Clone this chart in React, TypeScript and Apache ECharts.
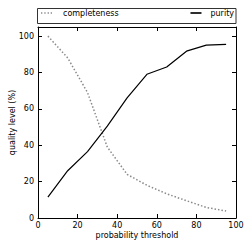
import React, { useEffect, useRef } from "react";
import * as echarts from "echarts";

const thresholds = [5, 15, 25, 35, 45, 55, 65, 75, 85, 95];
const completeness = [100, 88, 69, 39, 24, 18, 13.3, 9.5, 5.8, 3.8];
const purity = [11.5, 26, 36.5, 50.5, 66, 79, 83, 91.7, 95, 95.5];
const seriesNames = ["completeness", "purity"];

const FONT = "DejaVu Sans";

export default function App() {
  const ref = useRef<HTMLDivElement>(null);
  useEffect(() => {
    if (!ref.current) return;
    const chart = echarts.init(ref.current, undefined, { renderer: "svg" });
    const gridL = 38, gridR = 13, gridT = 27, gridB = 31;
    const axisCommon = {
      type: "value" as const,
      splitLine: { show: false },
      axisLine: { show: true, onZero: false, lineStyle: { color: "#000", width: 1 } },
      axisTick: { show: true, inside: true, length: 4, lineStyle: { color: "#000", width: 1 } },
    };
    const dottedIcon = "path://M0,0H1.2V1.5H0Z M3,0H4.2V1.5H3Z M6,0H7.2V1.5H6Z M8.8,0H10V1.5H8.8Z";
    const solidIcon = "path://M0,0H10V1.5H0Z";
    chart.setOption({
      animation: false,
      backgroundColor: "#fff",
      textStyle: { fontFamily: FONT },
      grid: { left: gridL, right: gridR, top: gridT, bottom: gridB },
      legend: [
        {
          data: [{ name: seriesNames[0], icon: dottedIcon }],
          left: 41,
          top: 9,
          itemWidth: 11,
          itemHeight: 14,
          padding: 0,
          textStyle: { fontSize: 8, color: "#000", fontFamily: FONT, padding: [0, 0, 0, 6] },
        },
        {
          data: [{ name: seriesNames[1], icon: solidIcon }],
          right: 15,
          top: 9,
          itemWidth: 11,
          itemHeight: 14,
          padding: 0,
          textStyle: { fontSize: 8, color: "#000", fontFamily: FONT, padding: [0, 0, 0, 4] },
        },
      ],
      graphic: [
        {
          type: "rect",
          shape: { x: 37.5, y: 8.5, width: 198.5, height: 15 },
          style: { fill: "none", stroke: "#333", lineWidth: 1 },
        },
      ],
      xAxis: [
        {
          ...axisCommon,
          position: "bottom",
          min: 0,
          max: 100,
          interval: 20,
          axisLabel: { fontSize: 8, color: "#000", margin: 3, fontFamily: FONT },
          name: "probability threshold",
          nameLocation: "middle",
          nameGap: 13,
          nameMoveOverlap: false,
          nameTextStyle: { fontSize: 8, color: "#000", fontFamily: FONT },
        },
        {
          ...axisCommon,
          position: "top",
          min: 0,
          max: 100,
          interval: 20,
          axisLabel: { show: false },
        },
      ],
      yAxis: [
        {
          ...axisCommon,
          position: "left",
          min: 0,
          max: 105,
          interval: 20,
          axisLabel: { fontSize: 8, color: "#000", margin: 4, showMaxLabel: false, fontFamily: FONT },
          name: "quality level (%)",
          nameLocation: "middle",
          nameRotate: 90,
          nameGap: 22,
          nameMoveOverlap: false,
          nameTextStyle: { fontSize: 8, color: "#000", fontFamily: FONT },
        },
        {
          ...axisCommon,
          position: "right",
          min: 0,
          max: 105,
          interval: 20,
          axisLabel: { show: false },
        },
      ],
      series: [
        {
          name: seriesNames[0],
          type: "line",
          symbol: "none",
          data: thresholds.map((t, i) => [t, completeness[i]]),
          lineStyle: { color: "#8a8a8a", width: 1.5, type: [1.5, 2] },
          itemStyle: { color: "#8a8a8a" },
        },
        {
          name: seriesNames[1],
          type: "line",
          symbol: "none",
          data: thresholds.map((t, i) => [t, purity[i]]),
          lineStyle: { color: "#000", width: 1.2 },
          itemStyle: { color: "#000" },
        },
      ],
    });
    return () => chart.dispose();
  }, []);
  return (
    <div
      ref={ref}
      style={{ position: "fixed", left: 0, top: 0, width: 249, height: 249 }}
    />
  );
}
